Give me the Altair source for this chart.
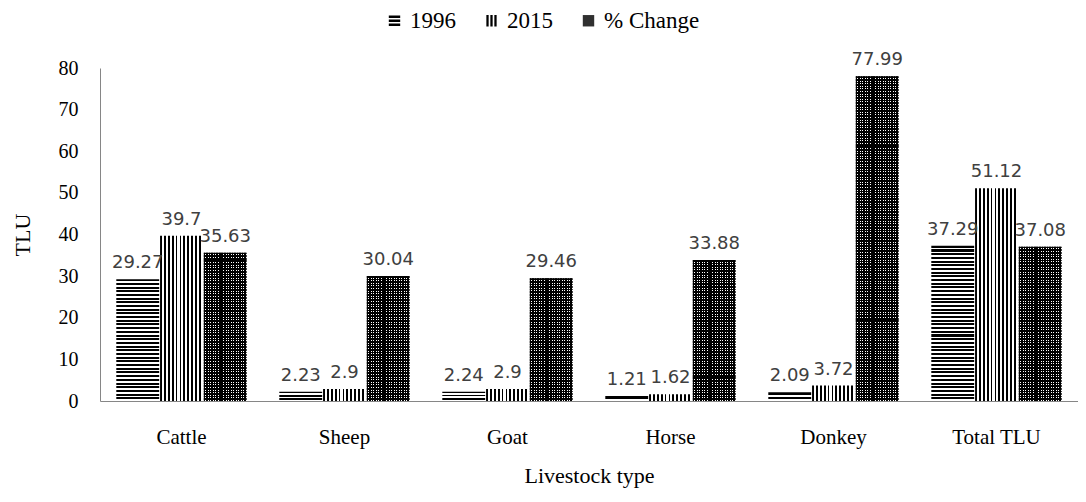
import altair as alt
import pandas as pd

animals = ["Cattle", "Sheep", "Goat", "Horse", "Donkey", "Total TLU"]
series = ["1996", "2015", "% Change"]
v1996 = [29.27, 2.23, 2.24, 1.21, 2.09, 37.29]
v2015 = [39.7, 2.9, 2.9, 1.62, 3.72, 51.12]
vpct = [35.63, 30.04, 29.46, 33.88, 77.99, 37.08]

rows = []
for s, vals in zip(series, [v1996, v2015, vpct]):
    for a, v in zip(animals, vals):
        rows.append({"animal": a, "series": s, "value": v, "label": str(v)})
df = pd.DataFrame(rows)

W, H = 978, 333
YMAX = 80
PX = H / YMAX


def stripes(n, vertical, dark=0.5, c_dark="#000000", c_light="#ffffff"):
    n = max(1, int(round(n)))
    stops = []
    for i in range(n):
        a = i / n
        b = (i + dark) / n
        c = (i + 1) / n
        stops += [
            {"offset": a, "color": c_dark},
            {"offset": b, "color": c_dark},
            {"offset": b, "color": c_light},
            {"offset": c, "color": c_light},
        ]
    g = {"gradient": "linear", "x1": 0, "y1": 0, "stops": stops}
    if vertical:
        g.update({"x2": 1, "y2": 0})
    else:
        g.update({"x2": 0, "y2": 1})
    return g


conds = []
for a, v in zip(animals, v1996):
    conds.append({"test": f"datum.series === '1996' && datum.animal === '{a}'",
                  "value": stripes(v * PX / 3.7, False, 0.55)})
conds.append({"test": "datum.series === '2015'", "value": stripes(11, True, 0.45)})
conds.append({"test": "datum.series === '% Change'", "value": stripes(17, True, 0.62)})

over = []
for a, v in zip(animals, vpct):
    over.append({"test": f"datum.animal === '{a}'",
                 "value": stripes(v * PX / 2.6, False, 0.62, "#000000", "rgba(0,0,0,0)")})

serif = "Liberation Serif"
sans = "DejaVu Sans"

x = alt.X("animal:N", sort=animals,
          scale=alt.Scale(paddingInner=0.2, paddingOuter=0.1),
          axis=alt.Axis(title="Livestock type", labelAngle=0, ticks=False,
                        labelFont=serif, labelFontSize=21, labelColor="#000000",
                        labelPadding=25, domainColor="#868686",
                        titleFont=serif, titleFontSize=22, titleFontWeight="normal",
                        titleColor="#000000", titlePadding=18))
xo = alt.XOffset("series:N", sort=series,
                 scale=alt.Scale(domain=series, paddingInner=0.02))
y = alt.Y("value:Q", scale=alt.Scale(domain=[0, YMAX], nice=False),
          axis=alt.Axis(title="TLU", values=list(range(0, 81, 10)), grid=False,
                        ticks=False, labelFont=serif, labelFontSize=20,
                        labelColor="#000000", labelPadding=22, domainColor="#868686",
                        titleFont=serif, titleFontSize=22, titleFontWeight="normal",
                        titleColor="#000000", titlePadding=24))

fill_scale = alt.Scale(domain=series, range=["#000000", "#000000", "#303030"])
shape_scale = alt.Scale(domain=series, range=[
    "M-1,-0.9H1V-0.5H-1Z M-1,-0.2H1V0.2H-1Z M-1,0.5H1V0.9H-1Z",
    "M-0.9,-1H-0.5V1H-0.9Z M-0.2,-1H0.2V1H-0.2Z M0.5,-1H0.9V1H0.5Z",
    "square",
])

base = alt.Chart(df)

bars = base.mark_bar(strokeWidth=0).encode(
    x=x, xOffset=xo, y=y,
    fill=alt.Fill("series:N", scale=fill_scale, legend=alt.Legend(title=None),
                  condition=conds),
)

overlay = base.transform_filter("datum.series === '% Change'").mark_bar(strokeWidth=0).encode(
    x=x, xOffset=xo, y=y,
    fill=alt.Fill("series:N", scale=fill_scale, legend=alt.Legend(title=None),
                  condition=over),
)

legend_pts = base.transform_filter("false").mark_point(filled=True, opacity=1).encode(
    x=x, xOffset=xo, y=y,
    fill=alt.Fill("series:N", scale=fill_scale, legend=alt.Legend(title=None)),
    shape=alt.Shape("series:N", scale=shape_scale, legend=alt.Legend(title=None)),
)

labels = base.mark_text(font=sans, fontSize=18, color="#404040",
                        baseline="bottom", dy=-7).encode(
    x=x, xOffset=xo, y=y, text="label:N",
)

chart = alt.layer(bars, overlay, legend_pts, labels).properties(
    width=W, height=H,
    autosize=alt.AutoSizeParams(type="none"),
    padding={"left": 92, "top": 60, "right": 0, "bottom": 93},
).configure_view(stroke=None).configure_legend(
    orient="none", legendX=283, legendY=-59, direction="horizontal",
    labelFont=serif, labelFontSize=23, labelColor="#000000",
    symbolSize=130, symbolStrokeWidth=0, labelOffset=4, columnPadding=24,
    symbolOpacity=1,
)

chart.save("out.html", embed_options={"renderer": "svg", "actions": False})
